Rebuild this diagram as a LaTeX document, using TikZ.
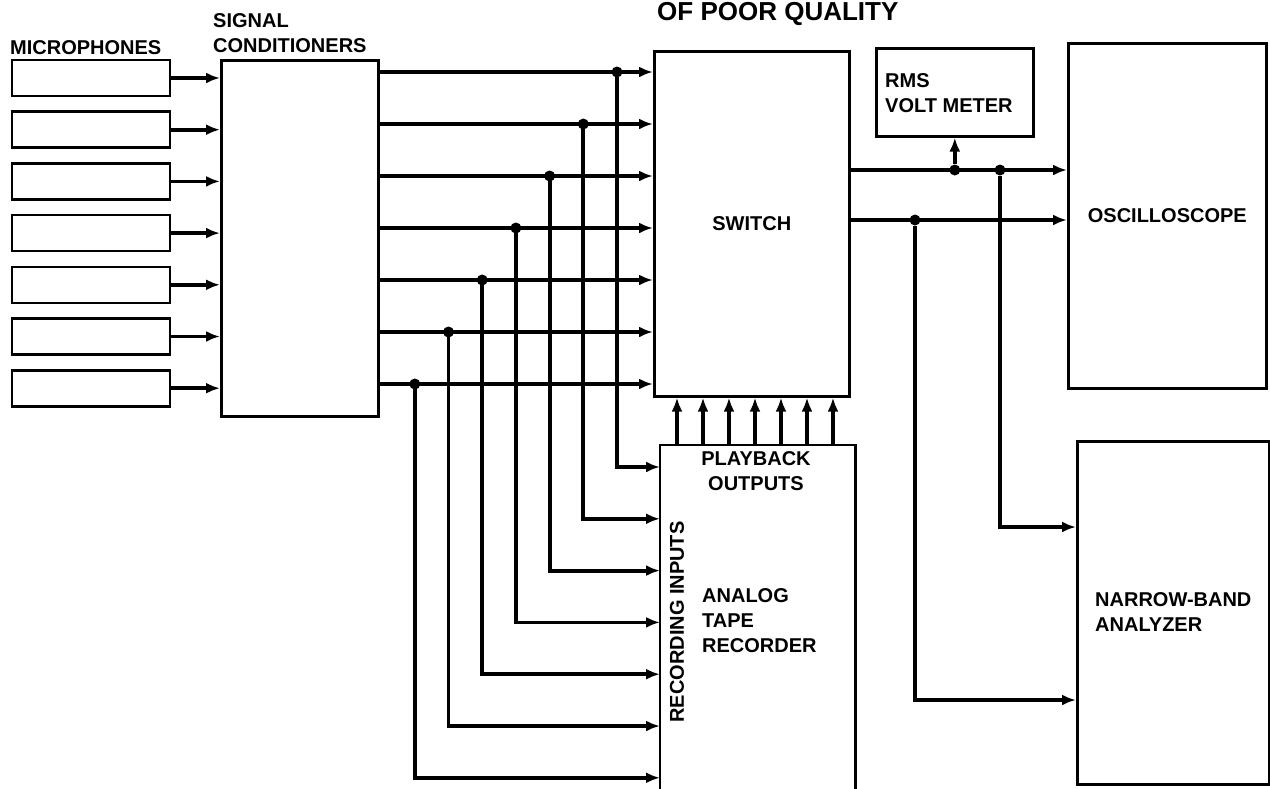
\documentclass[tikz,border=0pt]{standalone}
\usepackage{fontspec}
\setmainfont{Liberation Sans}
\usetikzlibrary{positioning,arrows.meta,calc}
\tikzset{
    base/.style={font=\fontsize{20}{25}\selectfont\bfseries, align=left},
    device/.style={base, rectangle, draw=black, line width=2.6pt, inner sep=0pt},
    flow/.style={-{Latex[length=14pt,width=11pt]}, line width=3.8pt},
    junction/.style={circle, fill=black, inner sep=0pt, minimum size=11pt},
    caption/.style={base, inner sep=0pt}
}

\begin{document}
\begin{tikzpicture}[x=1pt, y=-1pt]
  \useasboundingbox (0,0) rectangle (1270,788);

  % Stamp at the top edge
  \node[caption, anchor=base west, font=\fontsize{26}{30}\selectfont\bfseries] (stamp) at (657,20) {OF POOR QUALITY};

  % Microphones and conditioners
  \foreach \i in {1,...,7}
    \node[device, minimum width=158pt, minimum height=36pt] (mic\i) at (91,{78+51.7*(\i-1)}) {};
  \node[device, anchor=north west, minimum width=157pt, minimum height=356pt] (cond) at (220,59) {};
  \node[caption, anchor=north west] (miclbl) at (10,40) {MICROPHONES};
  \node[caption, anchor=north west] (condlbl) at (213,13) {SIGNAL\\CONDITIONERS};

  % Switch, tape recorder
  \node[device, anchor=north west, minimum width=195pt, minimum height=345pt, align=center] (switch) at (653,50) {SWITCH};
  \node[anchor=north west, minimum width=195pt, minimum height=355pt, inner sep=0pt] (rec) at (660,445) {};
  \draw[line width=2.6pt] (rec.south west) -- (rec.north west) -- (rec.north east) -- (rec.south east);
  \node[caption, align=center] (pblbl) at (756,471) {PLAYBACK\\OUTPUTS};
  \node[caption, rotate=90] (reclbl) at (677,622) {RECORDING INPUTS};
  \node[caption, anchor=north west] (tapelbl) at (702,588) {ANALOG\\TAPE\\RECORDER};

  % Measuring equipment
  \node[device, anchor=north west, minimum width=157pt, minimum height=88pt] (rms) at (875,47) {};
  \node[caption, anchor=north west] (rmslbl) at (885,73) {RMS\\VOLT METER};
  \node[device, anchor=north west, minimum width=198pt, minimum height=345pt, align=center] (scope) at (1067,42) {OSCILLOSCOPE};
  \node[device, anchor=north west, minimum width=192pt, minimum height=343pt] (nba) at (1076,440) {};
  \node[caption, anchor=north west] (nbalbl) at (1095,592) {NARROW-BAND\\ANALYZER};

  % Channels
  \foreach \i in {1,...,7} {
    \pgfmathsetmacro{\ys}{72+52*(\i-1)}
    \pgfmathsetmacro{\xj}{617-33.7*(\i-1)}
    \pgfmathsetmacro{\yr}{467+51.8*(\i-1)}
    \pgfmathsetmacro{\xp}{677+26*(\i-1)}
    \draw[flow] (mic\i.east) -- (mic\i.east -| cond.west);
    \coordinate (out\i) at (cond.east |- 0,\ys);
    \coordinate (tap\i) at (\xj,\ys);
    \coordinate (rin\i) at (rec.west |- 0,\yr);
    \coordinate (pb\i) at (rec.north -| \xp,0);
    \draw[flow] (out\i) -- (out\i -| switch.west);
    \draw[flow] (tap\i) |- (rin\i);
    \node[junction] (j\i) at (tap\i) {};
    \draw[flow] (pb\i) -- (pb\i |- switch.south);
  }

  % Switch outputs
  \coordinate (sa) at (switch.east |- 0,170);
  \coordinate (sb) at (switch.east |- 0,220);
  \draw[flow] (sa) -- (sa -| scope.west);
  \draw[flow] (sb) -- (sb -| scope.west);
  \node[junction] (jr) at (rms.south |- sa) {};
  \draw[flow] (jr) -- (rms.south);
  \node[junction] (ja) at (1000,170) {};
  \node[junction] (jb) at (915,220) {};
  \draw[flow] (ja) |- (nba.west |- 0,527);
  \draw[flow] (jb) |- (nba.west |- 0,700);
\end{tikzpicture}
\end{document}
